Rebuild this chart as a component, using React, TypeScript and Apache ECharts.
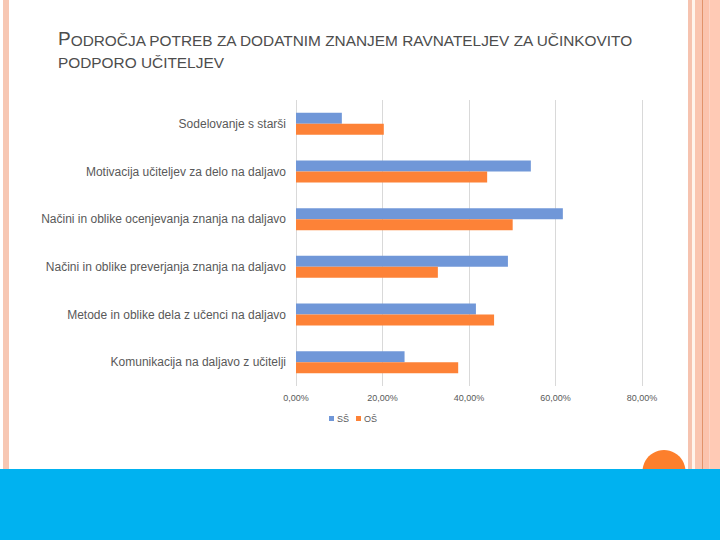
import React, { useEffect, useRef } from "react";
import * as echarts from "echarts";

const categories = [
  "Sodelovanje s starši",
  "Motivacija učiteljev za delo na daljavo",
  "Načini in oblike ocenjevanja znanja na daljavo",
  "Načini in oblike preverjanja znanja na daljavo",
  "Metode in oblike dela z učenci na daljavo",
  "Komunikacija na daljavo z učitelji",
];
const seriesNames = ["SŠ", "OŠ"];
const valuesSS = [0.106, 0.543, 0.617, 0.49, 0.416, 0.251];
const valuesOS = [0.203, 0.442, 0.501, 0.328, 0.458, 0.375];
const titleFirst = "P";
const titleRest1 = "ODROČJA POTREB ZA DODATNIM ZNANJEM RAVNATELJEV ZA UČINKOVITO";
const titleLine2 = "PODPORO UČITELJEV";

const fmt = (v: number) => (v * 100).toFixed(2).replace(".", ",") + "%";

export default function App() {
  const ref = useRef<HTMLDivElement>(null);
  useEffect(() => {
    if (!ref.current) return;
    const chart = echarts.init(ref.current, null, { renderer: "svg" });
    const font = "Liberation Sans, Arial, sans-serif";
    chart.setOption({
      animation: false,
      backgroundColor: "#ffffff",
      textStyle: { fontFamily: font },
      title: {
        left: 53,
        top: 21,
        text:
          "{b|" + titleFirst + "}{s|" + titleRest1 + "}\n{s|" + titleLine2 + "}",
        textStyle: {
          fontFamily: font,
          fontWeight: "normal",
          rich: {
            b: { fontSize: 19, color: "#4d4d4d", fontFamily: font, fontWeight: "normal", lineHeight: 22, verticalAlign: "bottom" },
            s: { fontSize: 15.4, color: "#4d4d4d", fontFamily: font, fontWeight: "normal", lineHeight: 22, verticalAlign: "bottom" },
          },
        },
      },
      legend: {
        left: 324,
        top: 409,
        itemWidth: 5,
        itemHeight: 5,
        itemGap: 7,
        icon: "rect",
        textStyle: { fontSize: 9, color: "#595959", fontFamily: font, padding: [0, 0, 0, -2] },
        data: seriesNames,
      },
      grid: { left: 296, right: 78, top: 100, bottom: 154, containLabel: false },
      xAxis: {
        type: "value",
        min: 0,
        max: 0.8,
        interval: 0.2,
        axisLine: { show: false },
        axisTick: { show: false },
        splitLine: { show: true, lineStyle: { color: "#d9d9d9", width: 1 } },
        axisLabel: { formatter: fmt, fontSize: 9, color: "#595959", margin: 7, fontFamily: font },
      },
      yAxis: {
        type: "category",
        data: categories,
        inverse: true,
        axisLine: { show: false },
        axisTick: { show: false },
        axisLabel: { fontSize: 12, color: "#595959", margin: 10, fontFamily: font },
      },
      series: [
        {
          name: seriesNames[0],
          type: "bar",
          data: valuesSS,
          barWidth: 11,
          barGap: "0%",
          itemStyle: { color: "#7097d8" },
        },
        {
          name: seriesNames[1],
          type: "bar",
          data: valuesOS,
          barWidth: 11,
          barGap: "0%",
          itemStyle: { color: "#fd8237" },
        },
      ],
      graphic: [
        { type: "rect", z: 1, shape: { x: 3, y: 0, width: 6, height: 470 }, style: { fill: "#f7c7b3" } },
        { type: "rect", z: 1, shape: { x: 688, y: 0, width: 4, height: 470 }, style: { fill: "#f6c3af" } },
        { type: "rect", z: 1, shape: { x: 692, y: 0, width: 3, height: 470 }, style: { fill: "#fff4ec" } },
        { type: "rect", z: 1, shape: { x: 695, y: 0, width: 7, height: 470 }, style: { fill: "#fac5b0" } },
        { type: "rect", z: 1, shape: { x: 702, y: 0, width: 1.5, height: 470 }, style: { fill: "#e3926a" } },
        { type: "rect", z: 1, shape: { x: 703.5, y: 0, width: 6, height: 470 }, style: { fill: "#fcc3ad" } },
        { type: "rect", z: 1, shape: { x: 709.5, y: 0, width: 11, height: 470 }, style: { fill: "#ffcab5" } },
        { type: "circle", z: 2, shape: { cx: 664, cy: 471.5, r: 21.5 }, style: { fill: "#fd7f2c" } },
        { type: "rect", z: 3, shape: { x: 0, y: 469, width: 720, height: 71 }, style: { fill: "#00b2f0" } },
      ],
    });
    return () => chart.dispose();
  }, []);
  return (
    <div
      ref={ref}
      style={{ position: "fixed", left: 0, top: 0, width: 720, height: 540 }}
    />
  );
}
